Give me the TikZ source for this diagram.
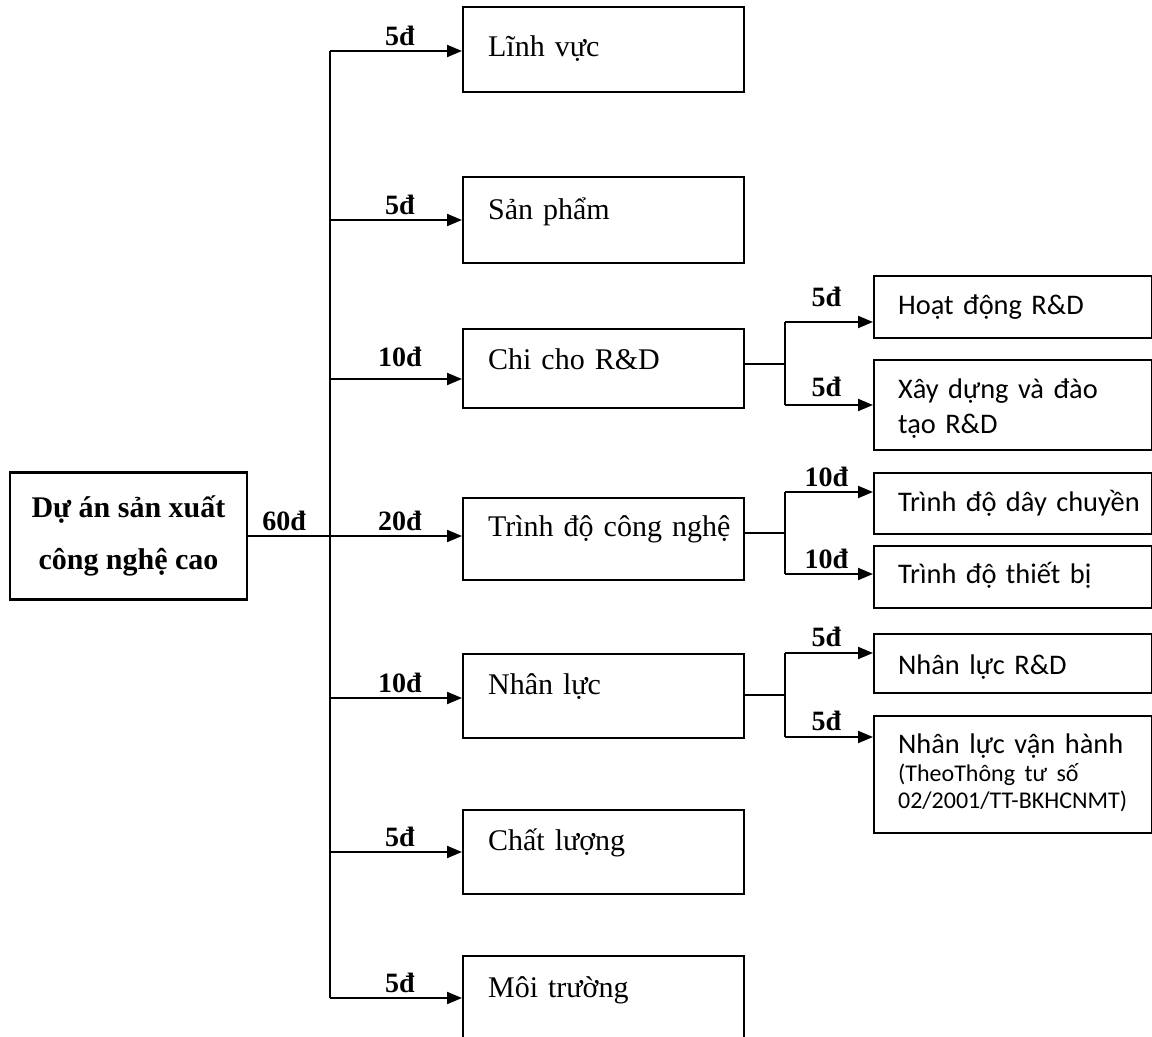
\documentclass[tikz,border=0pt]{standalone}
\usepackage{fontspec}
\setmainfont{Liberation Serif}
\newfontfamily\subfont{Carlito}
\usetikzlibrary{arrows.meta,calc}
\newcommand\notefont{\fontsize{12}{14}\selectfont}
\tikzset{
  conn/.style={line width=1pt},
  arr/.style={conn, -{Triangle[length=7.5pt,width=6pt]}},
  rootbox/.style={draw, line width=1.1pt, minimum width=118.5pt, minimum height=63.5pt,
    align=center, font=\bfseries\fontsize{15}{26}\selectfont},
  mainbox/.style={draw, line width=1.1pt, anchor=north west, text width=115.5pt,
    inner xsep=12.5pt, inner ysep=0pt, text height=20pt, text depth=22pt,
    align=left, font=\fontsize{15}{18}\selectfont},
  subbox/.style={draw, line width=1.1pt, anchor=north west, text width=115pt,
    inner xsep=12pt, inner ysep=0pt, text height=19pt, text depth=12pt,
    align=left, font=\subfont\fontsize{14.2}{17.5}\selectfont},
  pts/.style={above, inner sep=2pt, font=\bfseries\fontsize{14}{16}\selectfont}
}
\begin{document}
\begin{tikzpicture}[x=0.5pt, y=-0.5pt]
  \useasboundingbox (0,0) rectangle (1152,1037);
  \clip (0,0) rectangle (1152,1037);

  % root
  \node[rootbox] (root) at (128.5,536) {Dự án sản xuất\\công nghệ cao};

  % main column
  \node[mainbox, text height=24.5pt, text depth=18pt] (lv) at (462,6) {Lĩnh vực};
  \node[mainbox, text height=21pt] (sp) at (462,176) {Sản phẩm};
  \node[mainbox, text depth=19.5pt] (cc) at (462,328) {Chi cho R\&D};
  \node[mainbox, text height=19pt] (td) at (462,497) {\mbox{Trình độ công nghệ}};
  \node[mainbox] (nl) at (462,653) {Nhân lực};
  \node[mainbox] (cl) at (462,809) {Chất lượng};
  \node[mainbox, text height=20.5pt, text depth=40pt] (mt) at (462,955) {Môi trường};

  % right column
  \node[subbox] (hd) at (873,275) {Hoạt động R\&D};
  \node[subbox, text depth=26pt] (xd) at (873,359) {Xây dựng và đào\\tạo R\&D};
  \node[subbox, text depth=11.5pt] (dc) at (873,472) {\mbox{Trình độ dây chuyền}};
  \node[subbox, text height=18.5pt, text depth=12.5pt] (tb) at (873,545) {Trình độ thiết bị};
  \node[subbox, text height=20pt, text depth=9.5pt] (nr) at (873,633) {Nhân lực R\&D};
  \node[subbox, text height=18.5pt, text depth=40pt] (vh) at (873,715)
    {Nhân lực vận hành\\[-3.5pt]{\notefont(TheoThông tư số}\\[-4pt]{\notefont\mbox{02/2001/TT-BKHCNMT)}}};

  % trunk
  \coordinate (t1) at (330,51);
  \coordinate (t2) at (330,220);
  \coordinate (t3) at (330,379);
  \coordinate (t4) at (330,536);
  \coordinate (t5) at (330,698);
  \coordinate (t6) at (330,852);
  \coordinate (t7) at (330,998);
  \draw[conn] (t1) -- (t7);
  \draw[conn] (root.east) -- (t4) node[pts, pos=0.44] {60đ};
  \foreach \t/\b/\v/\s in {t1/lv/5/0, t2/sp/5/0, t3/cc/10/3.5, t4/td/20/0,
                           t5/nl/10/0, t6/cl/5/0, t7/mt/5/0}
    \draw[arr] (\t) -- (\t -| \b.west) node[pts, pos=0.53, yshift=\s pt] {\v đ};

  % branches
  \coordinate (j1) at (785,364);
  \coordinate (j1a) at (785,322);
  \coordinate (j1b) at (785,405);
  \coordinate (j2) at (785,533);
  \coordinate (j2a) at (785,492);
  \coordinate (j2b) at (785,574);
  \coordinate (j3) at (785,695);
  \coordinate (j3a) at (785,653);
  \coordinate (j3b) at (785,737);
  \draw[conn] (cc.east |- j1) -- (j1);
  \draw[conn] (td.east |- j2) -- (j2);
  \draw[conn] (nl.east |- j3) -- (j3);
  \draw[conn] (j1a) -- (j1b);
  \draw[conn] (j2a) -- (j2b);
  \draw[conn] (j3a) -- (j3b);
  \foreach \c/\b/\v/\s in {j1a/hd/5/5, j1b/xd/5/1.5, j2a/dc/10/0,
                           j2b/tb/10/0, j3a/nr/5/0.5, j3b/vh/5/0.5}
    \draw[arr] (\c) -- (\c -| \b.west) node[pts, pos=0.47, yshift=\s pt] {\v đ};
\end{tikzpicture}
\end{document}
